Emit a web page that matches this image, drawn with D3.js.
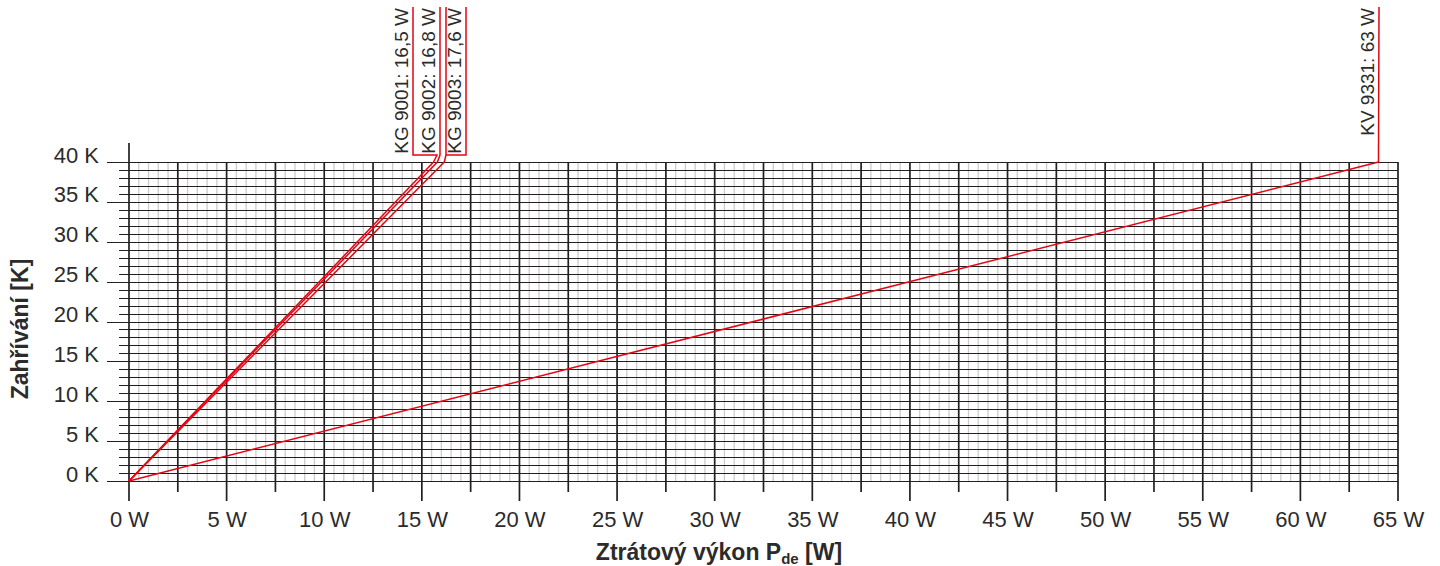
<!DOCTYPE html>
<html>
<head>
<meta charset="utf-8">
<script src="https://cdn.jsdelivr.net/npm/d3@7"></script>
<style>
  body { margin: 0; background: #fff; }
  text { font-family: "Liberation Sans", Arial, sans-serif; fill: #2b2b2b; }
</style>
</head>
<body>
<div id="chart"></div>
<script>
// data
const xTickValues = [0, 5, 10, 15, 20, 25, 30, 35, 40, 45, 50, 55, 60, 65];
const xTickLabels = ["0 W", "5 W", "10 W", "15 W", "20 W", "25 W", "30 W", "35 W", "40 W", "45 W", "50 W", "55 W", "60 W", "65 W"];
const yTickValues = [0, 5, 10, 15, 20, 25, 30, 35, 40];
const yTickLabels = ["0 K", "5 K", "10 K", "15 K", "20 K", "25 K", "30 K", "35 K", "40 K"];

const seriesNames = ["KG 9001: 16,5 W", "KG 9002: 16,8 W", "KG 9003: 17,6 W", "KV 9331: 63 W"];
// power (W) where each line reaches 40 K, as drawn
const seriesPowerAt40 = [15.6, 15.8, 16.15, 64];
const seriesTemp = 40;

const xTitle = "Ztrátový výkon P";
const xTitleSub = "de";
const xTitleEnd = " [W]";
const yTitle = "Zahřívání [K]";

const width = 1440, height = 566;
const red = "#e30613", dark = "#231f20", light = "#cccccc";

const svg = d3.select("#chart").append("svg")
  .attr("width", width)
  .attr("height", height);

//scales
const x = d3.scaleLinear().domain([0, 65]).range([129, 1398]);
const y = d3.scaleLinear().domain([0, 40]).range([481, 162]);

//light vertical grid every 0.5 W
svg.append("g").selectAll("line")
  .data(d3.range(0, 65.01, 0.5).filter(d => d % 2.5 !== 0))
  .enter().append("line")
    .attr("x1", d => x(d)).attr("x2", d => x(d))
    .attr("y1", y(0)).attr("y2", y(40))
    .attr("stroke", light).attr("stroke-width", 1.3);

//horizontal grid every 1 K, with stubs left of the axis
svg.append("g").selectAll("line")
  .data(d3.range(0, 40.01, 1))
  .enter().append("line")
    .attr("x1", d => d % 5 === 0 ? 107 : 119).attr("x2", x(65))
    .attr("y1", d => Math.round(y(d)) + 0.5).attr("y2", d => Math.round(y(d)) + 0.5)
    .attr("stroke", dark).attr("stroke-width", 1.1);

//dark vertical grid every 2.5 W
svg.append("g").selectAll("line")
  .data(d3.range(0, 65.01, 2.5))
  .enter().append("line")
    .attr("x1", d => x(d)).attr("x2", d => x(d))
    .attr("y1", d => d === 0 ? 143 : y(40))
    .attr("y2", d => y(0) + (d % 5 === 0 ? 20 : 11))
    .attr("stroke", dark).attr("stroke-width", 1.7);

//axes (labels only)
const xAxis = d3.axisBottom(x)
  .tickValues(xTickValues)
  .tickSize(0)
  .tickPadding(30)
  .tickFormat((d, i) => xTickLabels[i]);

const gx = svg.append("g")
  .attr("transform", `translate(0,${y(0)})`)
  .call(xAxis);
gx.select(".domain").remove();
gx.selectAll("text")
  .attr("fill", "#2b2b2b")
  .style("font-size", "22px");

const yAxis = d3.axisLeft(y)
  .tickValues(yTickValues)
  .tickSize(0)
  .tickPadding(30)
  .tickFormat((d, i) => yTickLabels[i]);

const gy = svg.append("g")
  .attr("transform", `translate(${x(0)},0)`)
  .call(yAxis);
gy.select(".domain").remove();
gy.selectAll("text")
  .attr("dy", "0em")
  .attr("fill", "#2b2b2b")
  .style("font-size", "22px");

//series lines
const line = d3.line()
  .x(d => x(d[0]))
  .y(d => y(d[1]));

svg.append("g").selectAll("path")
  .data(seriesPowerAt40)
  .enter().append("path")
    .attr("d", d => line([[0, 0], [d, seriesTemp]]))
    .attr("fill", "none")
    .attr("stroke", red)
    .attr("stroke-width", 1.5);

//leaders and labels at the top
const leaderX = [413, 440, 466, 1379];
const bendX = [437, 440, 446, 1379];
const leaderBottom = 155, leaderTop = 7;

const leaders = svg.append("g");
seriesPowerAt40.forEach((p, i) => {
  const ex = x(p), ey = y(seriesTemp);
  let pts;
  if (i === 3) {
    pts = [[ex, ey], [leaderX[i], leaderTop]];
  } else if (i === 2) {
    pts = [[ex, ey], [bendX[i], leaderBottom], [bendX[i], leaderTop], [bendX[i], leaderBottom],
           [leaderX[i], leaderBottom], [leaderX[i], leaderTop]];
  } else {
    pts = [[ex, ey], [bendX[i], leaderBottom], [leaderX[i], leaderBottom], [leaderX[i], leaderTop]];
  }
  leaders.append("path")
    .attr("d", d3.line()(pts))
    .attr("fill", "none")
    .attr("stroke", red)
    .attr("stroke-width", 1.5)
    .attr("stroke-linejoin", "miter");

  leaders.append("text")
    .attr("transform", `translate(${leaderX[i] - 5},${leaderTop + 1}) rotate(-90)`)
    .attr("text-anchor", "end")
    .style("font-size", "19px")
    .text(seriesNames[i]);
});

//axis titles
const xt = svg.append("text")
  .attr("x", 719)
  .attr("y", 560)
  .attr("text-anchor", "middle")
  .style("font-size", "23px")
  .style("font-weight", "bold");
xt.append("tspan").text(xTitle);
xt.append("tspan").attr("dy", 4).style("font-size", "15px").text(xTitleSub);
xt.append("tspan").attr("dy", -4).text(xTitleEnd);

svg.append("text")
  .attr("transform", "translate(28,329) rotate(-90)")
  .attr("text-anchor", "middle")
  .style("font-size", "23px")
  .style("font-weight", "bold")
  .text(yTitle);
</script>
</body>
</html>
